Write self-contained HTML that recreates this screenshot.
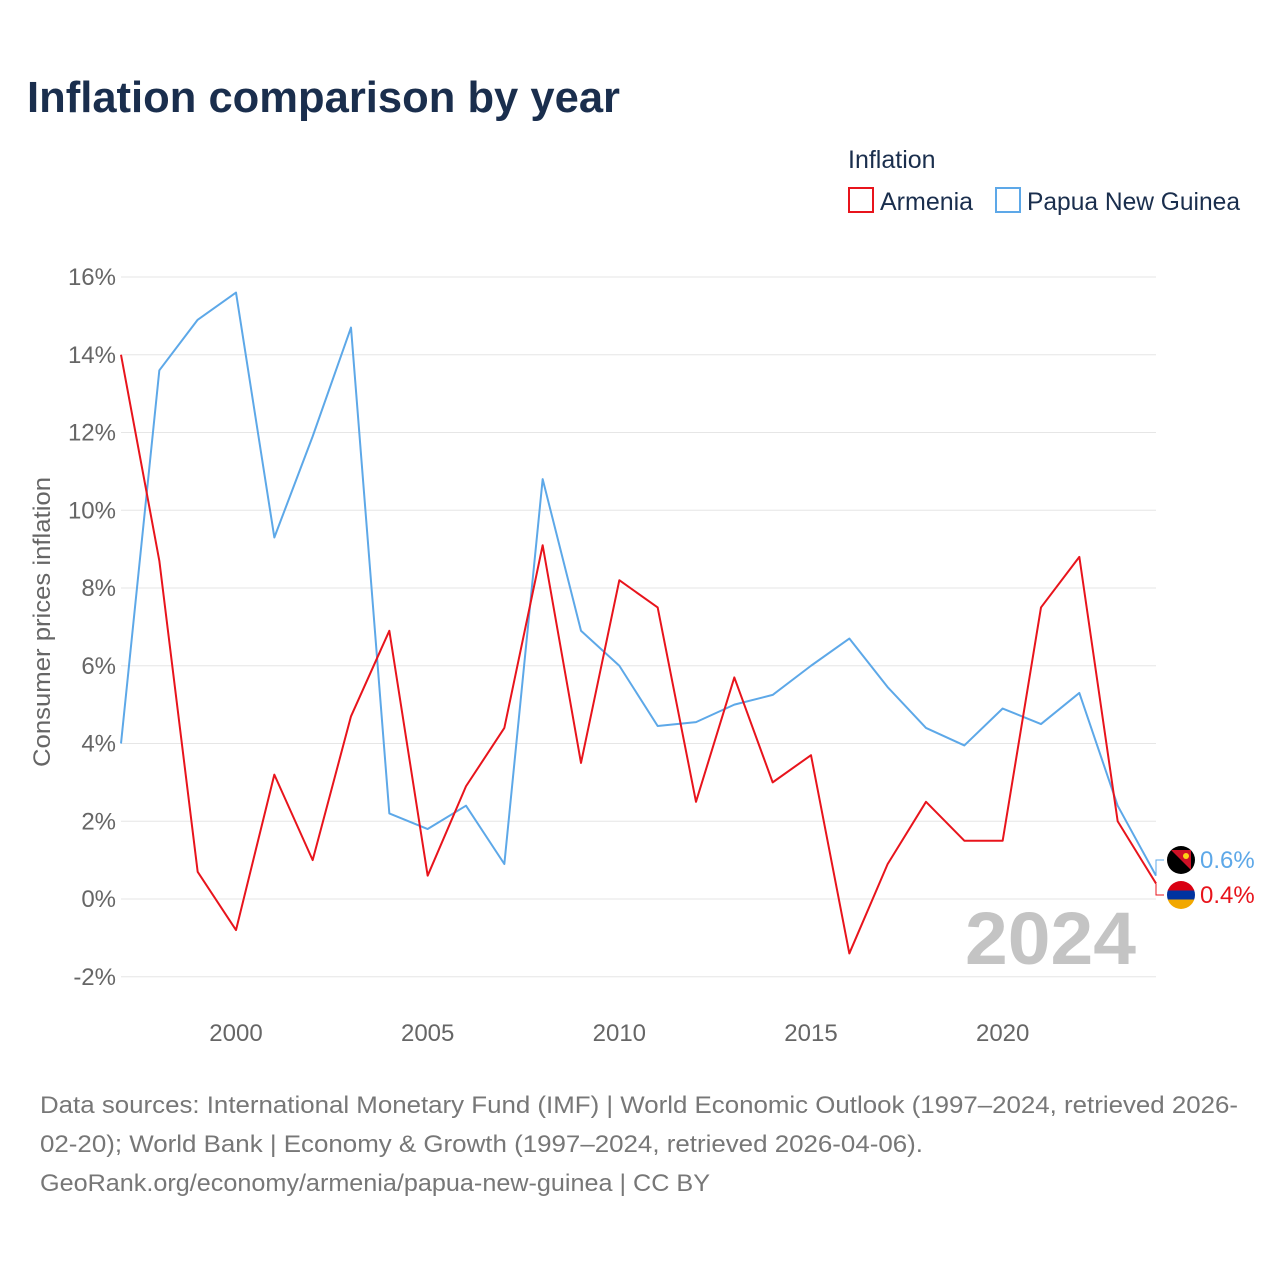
<!DOCTYPE html>
<html><head><meta charset="utf-8">
<style>
body{margin:0;background:#fff;font-family:"Liberation Sans",sans-serif;}
svg text{font-family:"Liberation Sans",sans-serif;}
</style></head>
<body>
<svg id="chart" width="1280" height="1280" xmlns="http://www.w3.org/2000/svg">
<rect width="1280" height="1280" fill="#fff"/>
<text x="27" y="112" font-size="44" font-weight="bold" fill="#1a2e4d" textLength="593" lengthAdjust="spacingAndGlyphs">Inflation comparison by year</text>
<text x="848" y="168" font-size="25" fill="#1a2e4d">Inflation</text>
<g>
<rect x="849" y="188" width="24" height="24" fill="none" stroke="#e8141c" stroke-width="2"/>
<text x="880" y="210" font-size="25" fill="#1a2e4d">Armenia</text></g>
<g>
<rect x="996" y="188" width="24" height="24" fill="none" stroke="#5da8e8" stroke-width="2"/>
<text x="1027" y="210" font-size="25" fill="#1a2e4d" textLength="213" lengthAdjust="spacingAndGlyphs">Papua New Guinea</text></g>
<g id="grid"></g>
<g id="yticks"></g>
<g id="xticks"></g>
<text transform="translate(50,622) rotate(-90)" text-anchor="middle" font-size="24" fill="#666" textLength="290" lengthAdjust="spacingAndGlyphs">Consumer prices inflation</text>
<text x="1136" y="964" text-anchor="end" font-size="74" font-weight="bold" fill="#c4c4c4" textLength="171" lengthAdjust="spacingAndGlyphs">2024</text>
<g id="series"></g>
<g font-size="24" fill="#777">
<text x="40" y="1113" textLength="1198" lengthAdjust="spacingAndGlyphs">Data sources: International Monetary Fund (IMF) | World Economic Outlook (1997–2024, retrieved 2026-</text>
<text x="40" y="1152" textLength="883" lengthAdjust="spacingAndGlyphs">02-20); World Bank | Economy &amp; Growth (1997–2024, retrieved 2026-04-06).</text>
<text x="40" y="1191" textLength="670" lengthAdjust="spacingAndGlyphs">GeoRank.org/economy/armenia/papua-new-guinea | CC BY</text>
</g>
</svg>
<script>
const years=[1997,1998,1999,2000,2001,2002,2003,2004,2005,2006,2007,2008,2009,2010,2011,2012,2013,2014,2015,2016,2017,2018,2019,2020,2021,2022,2023,2024];
const armenia=[14.0,8.7,0.7,-0.8,3.2,1.0,4.7,6.9,0.6,2.9,4.4,9.1,3.5,8.2,7.5,2.5,5.7,3.0,3.7,-1.4,0.9,2.5,1.5,1.5,7.5,8.8,2.0,0.4];
const png=[4.0,13.6,14.9,15.6,9.3,11.9,14.7,2.2,1.8,2.4,0.9,10.8,6.9,6.0,4.45,4.55,5.0,5.25,6.0,6.7,5.45,4.4,3.95,4.9,4.5,5.3,2.4,0.6];
const yTicks=[-2,0,2,4,6,8,10,12,14,16];
const xTicks=[2000,2005,2010,2015,2020];
const NS="http://www.w3.org/2000/svg";
const x=v=>121+(v-1997)*(1156-121)/27;
const y=v=>899-v*38.875;
function mk(t,a,p){const e=document.createElementNS(NS,t);for(const k in a)e.setAttribute(k,a[k]);p.appendChild(e);return e;}
const grid=document.getElementById('grid'),yt=document.getElementById('yticks'),xt=document.getElementById('xticks'),ser=document.getElementById('series');
yTicks.forEach(v=>{
 const l=mk('line',{x1:121,x2:1156,y1:y(v),y2:y(v),stroke:'#e6e6e6','stroke-width':1},grid);
 
 
 const t=mk('text',{x:116,y:y(v)+8,'text-anchor':'end','font-size':24,fill:'#666'},yt);
 t.textContent=v+'%';
 
 
});
xTicks.forEach(v=>{
 const t=mk('text',{x:x(v),y:1041,'text-anchor':'middle','font-size':24,fill:'#666'},xt);
 t.textContent=v;
 
 
});
function line(data,color,name){
 const p=mk('polyline',{points:data.map((v,i)=>x(years[i])+','+y(v)).join(' '),fill:'none',stroke:color,'stroke-width':2,'stroke-linejoin':'round'},ser);
 
 
}
line(png,'#5da8e8','line-papua-new-guinea');
line(armenia,'#e8141c','line-armenia');
const lx=x(2024);
function endLabel(v,color,ly,name,flag){
 const g=mk('g',{},ser);
 
 
 mk('polyline',{points:`${lx},${y(v)} ${lx},${ly} ${lx+8},${ly}`,fill:'none',stroke:color,'stroke-width':1},g);
 if(flag==='png'){
  mk('circle',{cx:1181,cy:ly,r:14,fill:'#000'},g);
  mk('path',{d:`M${1181-10},${ly-10} L${1181+10},${ly-10} L${1181+10},${ly+10}Z`,fill:'#ce1126'},g);
  mk('circle',{cx:1186,cy:ly-4,r:3,fill:'#fcd116'},g);
 } else {
  const cp=mk('clipPath',{id:'amclip'},g);
  mk('circle',{cx:1181,cy:ly,r:14},cp);
  mk('rect',{x:1167,y:ly-14,width:28,height:10,fill:'#d90012','clip-path':'url(#amclip)'},g);
  mk('rect',{x:1167,y:ly-4.5,width:28,height:9,fill:'#0033a0','clip-path':'url(#amclip)'},g);
  mk('rect',{x:1167,y:ly+4.5,width:28,height:10,fill:'#f2a800','clip-path':'url(#amclip)'},g);
 }
 const t=mk('text',{x:1200,y:ly+8,'font-size':24,fill:color},g);
 t.textContent=v+'%';
}
endLabel(png[png.length-1],'#5da8e8',860,'end-label-papua-new-guinea','png');
endLabel(armenia[armenia.length-1],'#e8141c',895,'end-label-armenia','am');
</script>
</body></html>
